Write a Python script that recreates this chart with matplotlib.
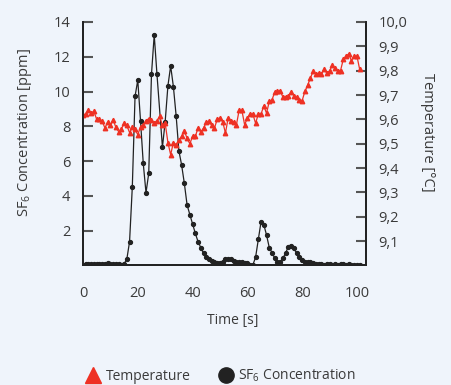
import matplotlib.pyplot as plt
from matplotlib.lines import Line2D
from matplotlib.ticker import FuncFormatter

plt.rcParams['font.family'] = ['Open Sans', 'DejaVu Sans']
plt.rcParams['mathtext.fontset'] = 'custom'
plt.rcParams['mathtext.rm'] = 'Open Sans'

# SF6 concentration [ppm] over time [s]
time_sf6 = list(range(0, 28)) + list(range(29, 102))
sf6 = [0.05, 0.08, 0.07, 0.10, 0.08, 0.10, 0.07, 0.08, 0.10, 0.12,
       0.10, 0.08, 0.10, 0.06, 0.05, 0.10, 0.36, 1.37, 4.50, 9.72,
       10.66, 8.32, 5.87, 4.18, 5.30, 10.99, 13.26, 11.00,
       6.80, 8.27, 10.33, 11.47, 10.28, 8.61, 6.60, 5.78, 4.72, 3.48,
       2.93, 2.39, 1.85, 1.37, 1.03, 0.70, 0.50, 0.36, 0.26, 0.20,
       0.17, 0.17, 0.22, 0.36, 0.39, 0.36, 0.28, 0.22, 0.20, 0.18,
       0.17, 0.13, 0.05, 0.03, 0.47, 1.50, 2.52, 2.35, 1.75, 1.03,
       0.74, 0.42, 0.22, 0.22, 0.41, 0.74, 1.08, 1.12, 0.98, 0.70,
       0.47, 0.32, 0.22, 0.20, 0.18, 0.13, 0.11, 0.08, 0.07, 0.05,
       0.08, 0.06, 0.04, 0.07, 0.05, 0.08, 0.06, 0.05, 0.07, 0.04,
       0.03, 0.02, 0.03]

# Temperature [°C] over time [s]
time_temp = list(range(0, 102))
temp = [9.616, 9.622, 9.639, 9.626, 9.633, 9.600, 9.600, 9.592, 9.565, 9.589,
        9.575, 9.599, 9.567, 9.550, 9.560, 9.585, 9.575, 9.546, 9.567, 9.559,
        9.537, 9.570, 9.578, 9.595, 9.603, 9.598, 9.586, 9.595, 9.612, 9.575,
        9.585, 9.505, 9.455, 9.505, 9.496, 9.516, 9.530, 9.552, 9.522, 9.500,
        9.530, 9.530, 9.565, 9.548, 9.565, 9.588, 9.592, 9.575, 9.565, 9.600,
        9.606, 9.590, 9.544, 9.606, 9.595, 9.590, 9.578, 9.637, 9.637, 9.578,
        9.605, 9.622, 9.622, 9.584, 9.622, 9.622, 9.656, 9.625, 9.674, 9.680,
        9.713, 9.715, 9.718, 9.690, 9.693, 9.695, 9.713, 9.697, 9.690, 9.680,
        9.677, 9.715, 9.740, 9.770, 9.797, 9.786, 9.790, 9.786, 9.805, 9.790,
        9.800, 9.822, 9.810, 9.797, 9.800, 9.846, 9.860, 9.869, 9.841, 9.860,
        9.860, 9.805]

left_ticks = [2, 4, 6, 8, 10, 12, 14]
right_ticks = [9.1, 9.2, 9.3, 9.4, 9.5, 9.6, 9.7, 9.8, 9.9, 10.0]
x_ticks = [0, 20, 40, 60, 80, 100]

bg = '#eff4fb'
red = '#ee3124'
dark = '#222222'
txt = '#3a3a3a'

fig = plt.figure(figsize=(4.52, 3.85), dpi=100, facecolor=bg)
ax = fig.add_axes([0.1836, 0.3104, 0.6261, 0.6325])
ax.set_facecolor(bg)

ax.plot(time_sf6, sf6, color=dark, lw=0.9, marker='o', ms=2.8)
ax.set_xlim(0, 103.3)
ax.set_ylim(0, 14)
ax.set_yticks(left_ticks)
ax.set_xticks(x_ticks)
ax.tick_params(axis='y', direction='in', length=7, width=1.5, color='#555555',
               labelsize=10.5, labelcolor=txt, pad=9)
ax.tick_params(axis='x', length=0, labelsize=10.5, labelcolor=txt, pad=15)
ax.set_xlabel('Time [s]', fontsize=10, color=txt)
ax.xaxis.set_label_coords(0.53, -0.195)
ax.set_ylabel('SF$_6$ Concentration [ppm]', fontsize=10.5, color=txt, labelpad=14)
ax.yaxis.label.set_y(0.545)

ax2 = ax.twinx()
ax2.plot(time_temp, temp, color=red, lw=0.9, marker='^', ms=3.2)
ax2.set_ylim(9.0, 10.0)
ax2.set_yticks(right_ticks)
ax2.yaxis.set_major_formatter(FuncFormatter(lambda v, p: f'{v:.1f}'.replace('.', ',')))
ax2.tick_params(axis='y', direction='in', length=7, width=1.5, color='#555555',
                labelsize=10.5, labelcolor=txt, pad=9)
ax2.set_ylabel('Temperature [°C]', fontsize=10.5, color=txt, rotation=270, labelpad=20)
ax2.yaxis.label.set_y(0.545)

for a in (ax, ax2):
    a.spines['top'].set_visible(False)
    for s in ('left', 'right', 'bottom'):
        a.spines[s].set_color(dark)
        a.spines[s].set_linewidth(1.3)

handles = [Line2D([], [], ls='none', marker='^', ms=11, color=red),
           Line2D([], [], ls='none', marker='o', ms=11, color=dark)]
fig.legend(handles, ['Temperature', 'SF$_6$ Concentration'], loc='center',
           bbox_to_anchor=(221 / 452, 1 - 376 / 385), ncol=2, frameon=False,
           fontsize=10, handlelength=1.0, handletextpad=0.4, columnspacing=2.0,
           labelcolor=txt)

fig.savefig('out.png', dpi=100, facecolor=bg)
